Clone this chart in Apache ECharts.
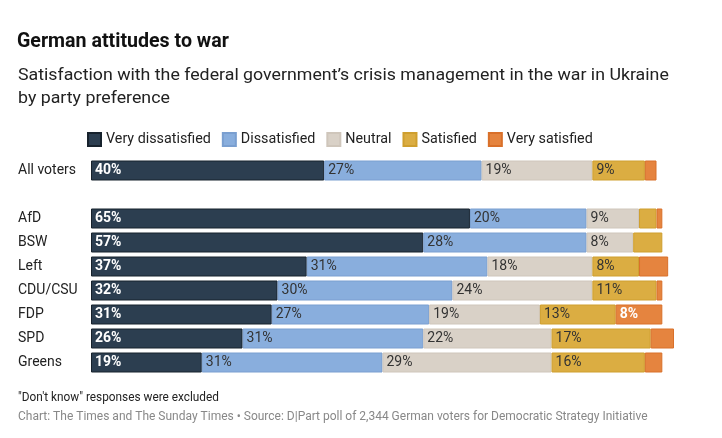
<!DOCTYPE html>
<html><head><meta charset="utf-8">
<script src="https://cdn.jsdelivr.net/npm/echarts@6/dist/echarts.min.js"></script>
<style>html,body{margin:0;padding:0;background:#fff}#c{width:722px;height:438px}</style>
</head><body><div id="c"></div>
<script>
const categories = ['All voters', '', 'AfD', 'BSW', 'Left', 'CDU/CSU', 'FDP', 'SPD', 'Greens'];
const seriesNames = ['Very dissatisfied', 'Dissatisfied', 'Neutral', 'Satisfied', 'Very satisfied'];
const veryDissatisfied = [40, null, 65, 57, 37, 32, 31, 26, 19];
const dissatisfied     = [27, null, 20, 28, 31, 30, 27, 31, 31];
const neutral          = [19, null, 9, 8, 18, 24, 19, 22, 29];
const satisfied        = [9, null, 3, 5, 8, 11, 13, 17, 16];
const verySatisfied    = [2, null, 1, 0, 5, 1, 8, 4, 3];

const titleText = 'German attitudes to war';
const subtitleLines = ['Satisfaction with the federal government\u2019s crisis management in the war in Ukraine', 'by party preference'];
const noteText = '"Don\'t know" responses were excluded';
const sourceText = 'Chart: The Times and The Sunday Times \u2022 Source: D|Part poll of 2,344 German voters for Democratic Strategy Initiative';

const values = [veryDissatisfied, dissatisfied, neutral, satisfied, verySatisfied];
const colors = ['#2c3e50', '#89aedd', '#d9d1c7', '#dbad42', '#e5843f'];
const borders = ['#17222d', '#7a9fd0', '#cfc6bb', '#cf9f2e', '#d9702a'];
const labelColors = ['#ffffff', '#333333', '#333333', '#333333', '#ffffff'];
const labelWeights = ['bold', 'normal', 'normal', 'normal', 'bold'];

const font = 'Roboto, sans-serif';
function txt(text, x, y, size, weight, color, sx) {
  return {type: 'text', x: x, y: y, scaleX: sx || 1, originX: 0, originY: 0,
    style: {text: text, fontFamily: font, fontSize: size, fontWeight: weight, fill: color,
      textAlign: 'left', textVerticalAlign: 'middle'}};
}

const chart = echarts.init(document.getElementById('c'), null, {renderer: 'canvas'});
chart.setOption({
  animation: false,
  backgroundColor: '#ffffff',
  graphic: [
    txt(titleText, 17, 42, 20, 'bold', '#111', 0.98),
    txt(subtitleLines[0], 18, 76, 17.3, 'normal', '#222', 1.028),
    txt(subtitleLines[1], 18, 98.5, 17.3, 'normal', '#222', 1.028),
    txt(noteText, 18, 398, 12, 'normal', '#222', 0.985),
    txt(sourceText, 18, 416.5, 12, 'normal', '#888', 1.0)
  ],
  legend: {
    left: 87, top: 132, padding: 0, itemWidth: 13, itemHeight: 13, itemGap: 11,
    icon: 'rect',
    textStyle: {fontFamily: font, fontSize: 14.3, color: '#222'},
    data: seriesNames
  },
  grid: {left: 91, right: 48, top: 158.5, height: 216, containLabel: false},
  xAxis: {type: 'value', min: 0, max: 100, show: false},
  yAxis: {
    type: 'category', data: categories, inverse: true,
    axisLine: {show: false}, axisTick: {show: false},
    axisLabel: {align: 'left', margin: 73, fontFamily: font, fontSize: 14, color: '#222'}
  },
  series: seriesNames.map((name, i) => ({
    name, type: 'bar', stack: 'all', barWidth: 20,
    data: values[i].map(v => v === 0 ? {value: 0, itemStyle: {borderWidth: 0}} : v),
    itemStyle: {color: colors[i], borderColor: borders[i], borderWidth: 1},
    label: {
      show: true, position: 'insideLeft', distance: 4,
      fontFamily: font, fontSize: 14,
      color: labelColors[i], fontWeight: labelWeights[i],
      formatter: p => (p.value != null && p.value >= 8) ? p.value + '%' : ''
    }
  }))
});
</script></body></html>
